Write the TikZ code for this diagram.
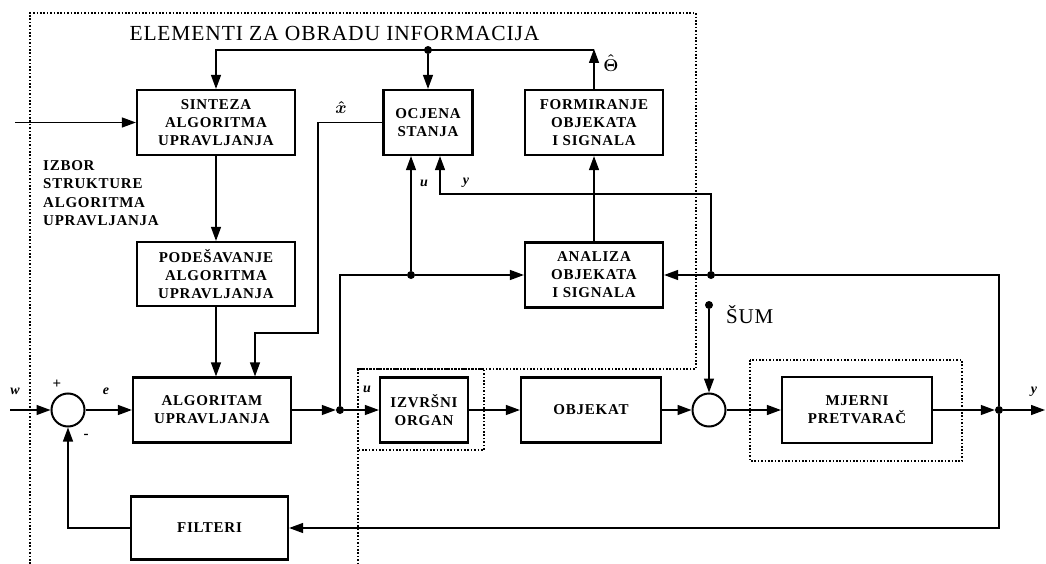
\documentclass[tikz,border=0pt]{standalone}
\usepackage{fontspec}
\setmainfont{Liberation Serif}
\newfontfamily\boxfont{Liberation Serif}[LetterSpace=5]
\newfontfamily\titlefont{Liberation Serif}[LetterSpace=4]
\usetikzlibrary{arrows.meta}
\begin{document}
\begin{tikzpicture}[x=1pt,y=-1pt,
  blk/.style={draw, line width=2.2pt, inner sep=0pt, align=center,
    font=\boxfont\bfseries\fontsize{15}{18}\selectfont},
  sumc/.style={circle, draw, line width=2pt, minimum size=33pt, inner sep=0pt},
  dot/.style={circle, fill, inner sep=0pt, minimum size=8pt},
  con/.style={line width=1.3pt},
  arr/.style={con, -{Triangle[length=14pt,width=10pt]}},
  lab/.style={inner sep=0pt, font=\bfseries\itshape\fontsize{14}{14}\selectfont},
  bnd/.style={line width=1.6pt, dash pattern=on 1.6pt off 1.8pt}]
\fill[white] (0,0) rectangle (1046,564);
\useasboundingbox (0,0) rectangle (1046,564);

% blocks
\node[blk, minimum width=158pt, minimum height=65pt] (sint) at (216,122.5) {SINTEZA\\ALGORITMA\\UPRAVLJANJA};
\node[blk, minimum width=89pt, minimum height=65pt] (ocj) at (428,122.5) {OCJENA\\STANJA};
\node[blk, minimum width=138pt, minimum height=65pt] (form) at (594,122.5) {FORMIRANJE\\OBJEKATA\\I SIGNALA};
\node[blk, minimum width=158pt, minimum height=64pt] (pod) at (216,274) {PODEŠAVANJE\\ALGORITMA\\UPRAVLJANJA};
\node[blk, minimum width=138pt, minimum height=65pt] (anal) at (594,275) {ANALIZA\\OBJEKATA\\I SIGNALA};
\node[blk, minimum width=158pt, minimum height=65pt] (alg) at (212,410) {ALGORITAM\\UPRAVLJANJA};
\node[blk, minimum width=157pt, minimum height=63pt] (filt) at (209.5,528) {FILTERI};
\node[blk, minimum width=88pt, minimum height=65pt] (izv) at (424,410) {IZVRŠNI\\ORGAN};
\node[blk, minimum width=140pt, minimum height=65pt] (obj) at (591,410) {OBJEKAT};
\node[blk, minimum width=150pt, minimum height=66pt] (mjer) at (857,410) {MJERNI\\PRETVARAČ};

\node[sumc] (sum1) at (68,410) {};
\node[sumc] (sum2) at (709,410) {};

% dots
\node[dot] (du) at (340,410) {};
\node[dot] (du2) at (411,275) {};
\node[dot] (dy) at (999,410) {};
\node[dot] (dy2) at (711,275) {};
\node[dot] (tdot) at (428,50) {};
\node[dot] (nd) at (709,305) {};

% coordinates
\coordinate (win) at (10,410);
\coordinate (in) at (15,122.5);
\coordinate (yout) at (1045,410);
\coordinate (tc) at (594,50);
\coordinate (xh1) at (318,122.5);
\coordinate (xh2) at (255,333);
\coordinate (yc) at (440,194);

% main path
\draw[arr] (win) -- (sum1.west);
\draw[arr] (sum1.east) -- (alg.west);
\draw[arr] (alg.east) -- (du);
\draw[arr] (du) -- (izv.west);
\draw[arr] (izv.east) -- (obj.west);
\draw[arr] (obj.east) -- (sum2.west);
\draw[arr] (nd) -- (sum2.north);
\draw[arr] (sum2.east) -- (mjer.west);
\draw[arr] (mjer.east) -- (dy);
\draw[arr] (dy) -- (yout);

% u branch
\draw[con] (du) |- (du2);
\draw[arr] (du2) -- (anal.west);
\draw[arr] (du2) -- (du2 |- ocj.south);

% y branch
\draw[con] (dy) |- (dy2);
\draw[arr] (dy2) -- (anal.east);
\draw[arr] (dy2) |- (yc) -- (yc |- ocj.south);

% feedback
\draw[arr] (dy) |- (filt.east);
\draw[arr] (filt.west) -| (sum1.south);

% left column
\draw[arr] (in) -- (sint.west);
\draw[arr] (sint.south) -- (pod.north);
\draw[arr] (pod.south) -- (pod.south |- alg.north);
\draw[arr] (ocj.west) -- (xh1) |- (xh2) -- (xh2 |- alg.north);

% top
\draw[arr] (anal.north) -- (form.south);
\draw[arr] (form.north) -- ([yshift=1pt]tc);
\draw[arr] (tc) -| (sint.north);
\draw[arr] (tdot) -- (ocj.north);

% boundaries
\draw[bnd] (30,564) -- (30,13) -- (696,13) -- (696,369) -- (358,369) -- (358,564);
\draw[bnd] (358,369) rectangle (484,450);
\draw[bnd] (750,360) rectangle (962,461);

% texts
\node[font=\titlefont\fontsize{21.5}{24}\selectfont] (title) at (334.5,33) {ELEMENTI ZA OBRADU INFORMACIJA};
\node[font=\titlefont\fontsize{21}{24}\selectfont, anchor=west, inner sep=0pt] (sumlab) at (726,315) {ŠUM};
\node[anchor=north west, align=left, inner sep=0pt,
  font=\boxfont\bfseries\fontsize{15}{18.5}\selectfont] (izbor) at (43,160) {IZBOR\\STRUKTURE\\ALGORITMA\\UPRAVLJANJA};
\node[inner sep=0pt, font=\boldmath\fontsize{19}{19}\selectfont] (xhat) at (341,108) {$\hat{x}$};
\node[inner sep=0pt, font=\boldmath\fontsize{18}{18}\selectfont] (thhat) at (611,63) {$\hat{\Theta}$};
\node[lab] (lu1) at (424,183) {u};
\node[lab] (ly1) at (466,183) {y};
\node[lab] (lu2) at (367,389) {u};
\node[lab] (lw) at (15,391) {w};
\node[lab, font=\bfseries\fontsize{15}{15}\selectfont] (lp) at (57,384) {+};
\node[lab] (le) at (106,391) {e};
\node[lab, font=\bfseries\fontsize{15}{15}\selectfont] (lm) at (86,436) {-};
\node[lab] (ly2) at (1034,392) {y};
\end{tikzpicture}
\end{document}
